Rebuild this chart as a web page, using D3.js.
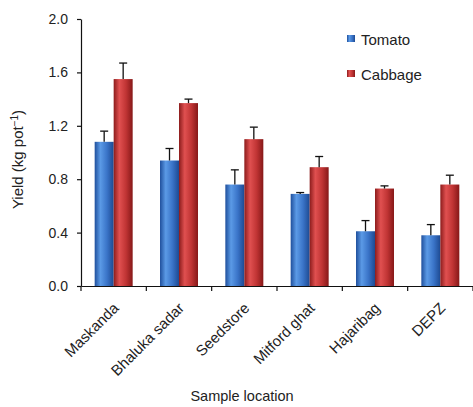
<!DOCTYPE html>
<html>
<head>
<meta charset="utf-8">
<script src="https://cdn.jsdelivr.net/npm/d3@7"></script>
<style>
  body { margin: 0; background: #fff; }
  text { font-family: "Liberation Sans", Arial, sans-serif; fill: #222; }
</style>
</head>
<body>
<div id="grafico"></div>
<script>
// Dados
const locais = ["Maskanda", "Bhaluka sadar", "Seedstore", "Mitford ghat", "Hajaribag", "DEPZ"];
const series = ["Tomato", "Cabbage"];
const tomato = [1.08, 0.94, 0.76, 0.69, 0.41, 0.38];
const cabbage = [1.55, 1.37, 1.10, 0.89, 0.73, 0.76];
const tomatoErr = [0.08, 0.09, 0.11, 0.01, 0.08, 0.08];
const cabbageErr = [0.12, 0.03, 0.09, 0.08, 0.02, 0.07];
const yTicks = [0, 0.4, 0.8, 1.2, 1.6, 2.0];

const width = 473, height = 407;
const margin = { top: 19, right: 0, bottom: 121, left: 81 };

const svg = d3.select("#grafico")
  .append("svg")
  .attr("width", width)
  .attr("height", height);

// gradientes para o efeito cilíndrico das barras
const defs = svg.append("defs");
const cores = {
  Tomato: ["#1f4f9c", "#5b9ae6", "#3a74c8", "#1d4a92"],
  Cabbage: ["#8c1c1c", "#e05050", "#c03434", "#861818"]
};
series.forEach(s => {
  const g = defs.append("linearGradient").attr("id", "grad" + s)
    .attr("x1", "0%").attr("x2", "100%").attr("y1", "0%").attr("y2", "0%");
  g.append("stop").attr("offset", "0%").attr("stop-color", cores[s][0]);
  g.append("stop").attr("offset", "30%").attr("stop-color", cores[s][1]);
  g.append("stop").attr("offset", "65%").attr("stop-color", cores[s][2]);
  g.append("stop").attr("offset", "100%").attr("stop-color", cores[s][3]);
});

const x = d3.scaleBand()
  .domain(locais)
  .range([margin.left, width - margin.right])
  .paddingInner(0);

const x1 = d3.scaleBand()
  .domain(series)
  .range([0, x.bandwidth()])
  .paddingInner(0)
  .paddingOuter(0.72);

const y = d3.scaleLinear()
  .domain([0, 2])
  .range([height - margin.bottom, margin.top]);

const y0 = y(0);

// barras
const dados = locais.map((l, i) => ({
  local: l,
  valores: [
    { serie: "Tomato", v: tomato[i], e: tomatoErr[i] },
    { serie: "Cabbage", v: cabbage[i], e: cabbageErr[i] }
  ]
}));

const grupos = svg.append("g").selectAll("g")
  .data(dados)
  .join("g")
  .attr("transform", d => `translate(${x(d.local)},0)`);

grupos.selectAll("rect")
  .data(d => d.valores)
  .join("rect")
  .attr("x", d => x1(d.serie))
  .attr("width", x1.bandwidth())
  .attr("y", d => y(d.v))
  .attr("height", d => y0 - y(d.v))
  .attr("fill", d => `url(#grad${d.serie})`);

// barras de erro
const cap = 4;
grupos.selectAll("g.err")
  .data(d => d.valores)
  .join("g")
  .attr("class", "err")
  .each(function(d) {
    const cx = x1(d.serie) + x1.bandwidth() / 2;
    const g = d3.select(this);
    g.append("line")
      .attr("x1", cx).attr("x2", cx)
      .attr("y1", y(d.v)).attr("y2", y(d.v + d.e))
      .attr("stroke", "#111").attr("stroke-width", 1.3);
    g.append("line")
      .attr("x1", cx - cap).attr("x2", cx + cap)
      .attr("y1", y(d.v + d.e)).attr("y2", y(d.v + d.e))
      .attr("stroke", "#111").attr("stroke-width", 1.3);
  });

// eixo Y
const eixoY = svg.append("g")
  .attr("transform", `translate(${margin.left},0)`)
  .call(d3.axisLeft(y).tickValues(yTicks).tickFormat(d3.format(".1f")).tickSize(4).tickSizeOuter(0));
eixoY.select(".domain").attr("stroke", "#111").attr("stroke-width", 1.2);
eixoY.selectAll(".tick line").attr("stroke", "#111").attr("stroke-width", 1.2);
eixoY.selectAll(".tick text")
  .attr("x", -13)
  .style("font-size", "14px")
  .style("fill", "#222");

// eixo X
const eixoX = svg.append("g")
  .attr("transform", `translate(0,${y0})`)
  .call(d3.axisBottom(x).tickSize(0).tickSizeOuter(0));
eixoX.select(".domain").attr("stroke", "#111").attr("stroke-width", 1.2);
eixoX.selectAll(".tick text").remove();

// marcas nos limites das categorias
const limites = locais.map(l => x(l)).concat([x.range()[1]]);
eixoX.selectAll("line.lim")
  .data(limites)
  .join("line")
  .attr("class", "lim")
  .attr("x1", d => d).attr("x2", d => d)
  .attr("y1", 0).attr("y2", 5)
  .attr("stroke", "#111").attr("stroke-width", 1.2);

// rótulos das categorias
svg.append("g").selectAll("text")
  .data(locais)
  .join("text")
  .attr("transform", d => `translate(${x(d) + x.bandwidth() / 2 + 6},${y0 + 23}) rotate(-45)`)
  .attr("text-anchor", "end")
  .style("font-size", "15px")
  .text(d => d);

// títulos
svg.append("text")
  .attr("x", 242)
  .attr("y", 401)
  .attr("text-anchor", "middle")
  .style("font-size", "14.5px")
  .text("Sample location");

const yTitulo = svg.append("text")
  .attr("transform", `translate(23,${(y0 + margin.top) / 2 + 7}) rotate(-90)`)
  .attr("text-anchor", "middle")
  .style("font-size", "15px");
yTitulo.append("tspan").text("Yield (kg pot");
yTitulo.append("tspan").attr("dy", -5).style("font-size", "10px").text("−1");
yTitulo.append("tspan").attr("dy", 5).text(")");

// legenda
const legenda = svg.append("g").attr("transform", "translate(347,35)");
series.forEach((s, i) => {
  legenda.append("rect")
    .attr("x", 0).attr("y", i * 35)
    .attr("width", 8).attr("height", 7)
    .attr("fill", `url(#grad${s})`);
  legenda.append("text")
    .attr("x", 14).attr("y", i * 35 + 10)
    .style("font-size", "15px")
    .text(s);
});
</script>
</body>
</html>
